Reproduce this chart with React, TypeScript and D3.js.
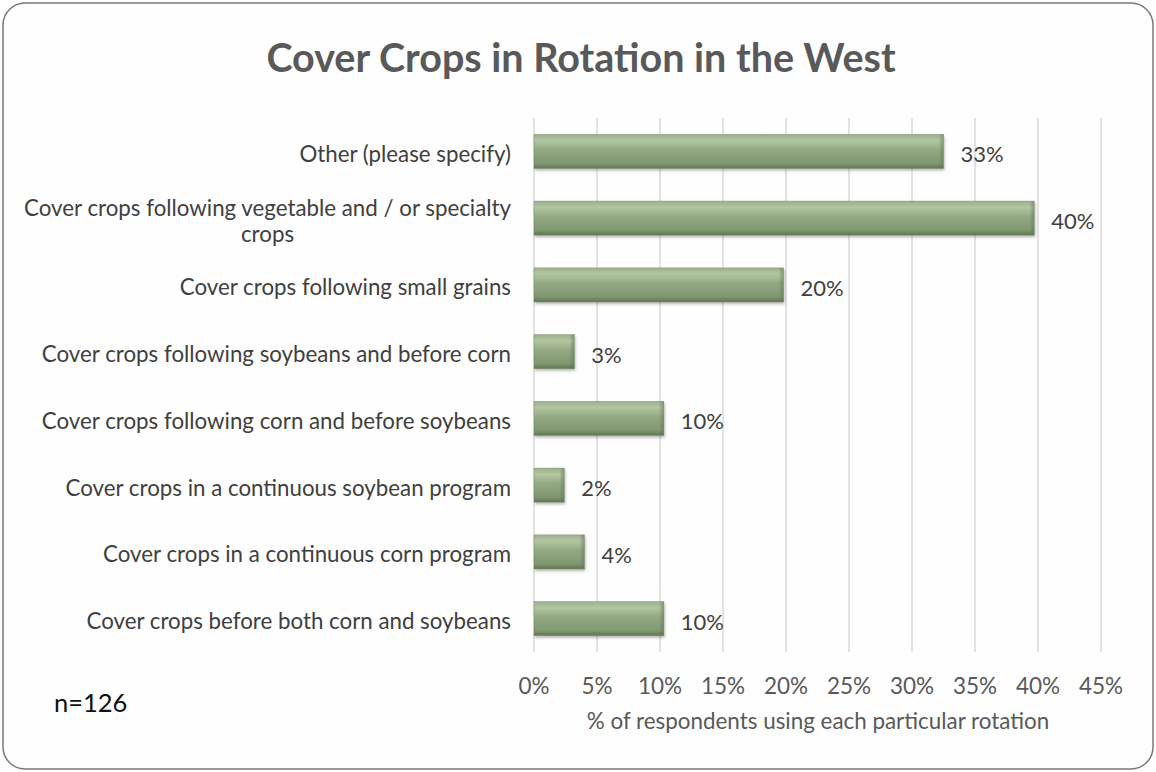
import React, { useEffect, useRef } from "react";
import * as d3 from "d3";

const categories = [
  "Other (please specify)",
  "Cover crops following vegetable and / or specialty crops",
  "Cover crops following small grains",
  "Cover crops following soybeans and before corn",
  "Cover crops following corn and before soybeans",
  "Cover crops in a continuous soybean program",
  "Cover crops in a continuous corn program",
  "Cover crops before both corn and soybeans",
];
const labelLines = [
  ["Other (please specify)"],
  ["Cover crops following vegetable and / or specialty", "crops"],
  ["Cover crops following small grains"],
  ["Cover crops following soybeans and before corn"],
  ["Cover crops following corn and before soybeans"],
  ["Cover crops in a continuous soybean program"],
  ["Cover crops in a continuous corn program"],
  ["Cover crops before both corn and soybeans"],
];
const values = [32.5, 39.7, 19.8, 3.2, 10.3, 2.4, 4.0, 10.3];
const valueLabels = ["33%", "40%", "20%", "3%", "10%", "2%", "4%", "10%"];
const ticks = [0, 5, 10, 15, 20, 25, 30, 35, 40, 45];

const W = 1156;
const H = 772;
const FONT = "Lato, 'Open Sans', sans-serif";

export default function App() {
  const ref = useRef<SVGSVGElement>(null);

  useEffect(() => {
    const svg = d3.select(ref.current);
    svg.selectAll("*").remove();

    const left = 534;
    const right = 1101;
    const top = 118;
    const bottom = 652;

    const x = d3.scaleLinear().domain([0, 45]).range([left, right]);
    const y = d3.scaleBand().domain(categories).range([top, bottom]).paddingInner(0.49).paddingOuter(0.245);

    const defs = svg.append("defs");
    const g = defs.append("linearGradient").attr("id", "barGrad").attr("x1", 0).attr("y1", 0).attr("x2", 0).attr("y2", 1);
    g.append("stop").attr("offset", "0%").attr("stop-color", "#9ab08a");
    g.append("stop").attr("offset", "18%").attr("stop-color", "#b3c6a3");
    g.append("stop").attr("offset", "45%").attr("stop-color", "#93a983");
    g.append("stop").attr("offset", "85%").attr("stop-color", "#819771");
    g.append("stop").attr("offset", "100%").attr("stop-color", "#5f7550");
    const gs = defs.append("linearGradient").attr("id", "endGrad").attr("x1", 0).attr("y1", 0).attr("x2", 1).attr("y2", 0);
    gs.append("stop").attr("offset", "0%").attr("stop-color", "#5f7450").attr("stop-opacity", 0);
    gs.append("stop").attr("offset", "100%").attr("stop-color", "#5f7450").attr("stop-opacity", 0.55);
    const f = defs.append("filter").attr("id", "shadow").attr("x", "-10%").attr("y", "-20%").attr("width", "130%").attr("height", "160%");
    f.append("feDropShadow").attr("dx", 1).attr("dy", 2).attr("stdDeviation", 1.5).attr("flood-color", "#000").attr("flood-opacity", 0.3);

    // background + border
    svg.append("rect").attr("x", 3).attr("y", 3).attr("width", W - 6).attr("height", H - 6)
      .attr("rx", 22).attr("ry", 22).attr("fill", "#fefefe").attr("stroke", "#7a7a7a").attr("stroke-width", 1.5);

    // title
    svg.append("text").attr("x", 581).attr("y", 72).attr("text-anchor", "middle")
      .attr("font-family", FONT).attr("font-weight", "bold").attr("font-size", 39.5).attr("fill", "#595959")
      .text("Cover Crops in Rotation in the West");

    // gridlines
    svg.append("g").selectAll("line").data(ticks).join("line")
      .attr("x1", (d) => x(d)).attr("x2", (d) => x(d)).attr("y1", top).attr("y2", bottom)
      .attr("stroke", "#d9d9d9").attr("stroke-width", 1.5);

    // tick labels
    svg.append("g").selectAll("text").data(ticks).join("text")
      .attr("x", (d) => x(d)).attr("y", 694).attr("text-anchor", "middle")
      .attr("font-family", FONT).attr("font-size", 22.5).attr("fill", "#595959")
      .text((d) => d + "%");

    // axis title
    svg.append("text").attr("x", 818).attr("y", 729).attr("text-anchor", "middle")
      .attr("font-family", FONT).attr("font-size", 22.4).attr("fill", "#595959")
      .text("% of respondents using each particular rotation");

    // bars
    const bars = svg.append("g");
    categories.forEach((c, i) => {
      const by = y(c)!;
      const bh = y.bandwidth();
      const bw = x(values[i]) - x(0);
      const bg = bars.append("g");
      bg.append("rect").attr("x", x(0)).attr("y", by).attr("width", bw).attr("height", bh)
        .attr("fill", "url(#barGrad)").attr("filter", "url(#shadow)");
      bg.append("rect").attr("x", x(values[i]) - 5).attr("y", by).attr("width", 5).attr("height", bh)
        .attr("fill", "url(#endGrad)");
      bg.append("rect").attr("x", x(0)).attr("y", by).attr("width", bw).attr("height", bh)
        .attr("fill", "none").attr("stroke", "#6a7f5b").attr("stroke-width", 0.6).attr("stroke-opacity", 0.6);
      // value label
      svg.append("text").attr("x", x(values[i]) + 17).attr("y", by + bh / 2 + 11)
        .attr("font-family", FONT).attr("font-size", 22).attr("fill", "#404040")
        .text(valueLabels[i]);
    });

    // category labels
    const labX = 511;
    categories.forEach((c, i) => {
      const lines = labelLines[i];
      const cy = y(c)! + y.bandwidth() / 2;
      const lh = 26;
      const t0 = cy - ((lines.length - 1) * lh) / 2;
      const first = svg.append("text").attr("x", labX).attr("y", t0 + 10.5).attr("text-anchor", "end")
        .attr("font-family", FONT).attr("font-size", 22.3).attr("fill", "#404040").text(lines[0]);
      if (lines.length > 1) {
        const w = (first.node() as SVGTextElement).getComputedTextLength();
        for (let k = 1; k < lines.length; k++) {
          svg.append("text").attr("x", labX - w / 2).attr("y", t0 + k * lh + 10.5).attr("text-anchor", "middle")
            .attr("font-family", FONT).attr("font-size", 22.3).attr("fill", "#404040").text(lines[k]);
        }
      }
    });

    // n label
    svg.append("text").attr("x", 54).attr("y", 712)
      .attr("font-family", FONT).attr("font-size", 25.5).attr("fill", "#111")
      .text("n=126");
  }, []);

  return (
    <svg ref={ref} width={W} height={H} style={{ position: "absolute", left: 0, top: 0, display: "block" }} />
  );
}
